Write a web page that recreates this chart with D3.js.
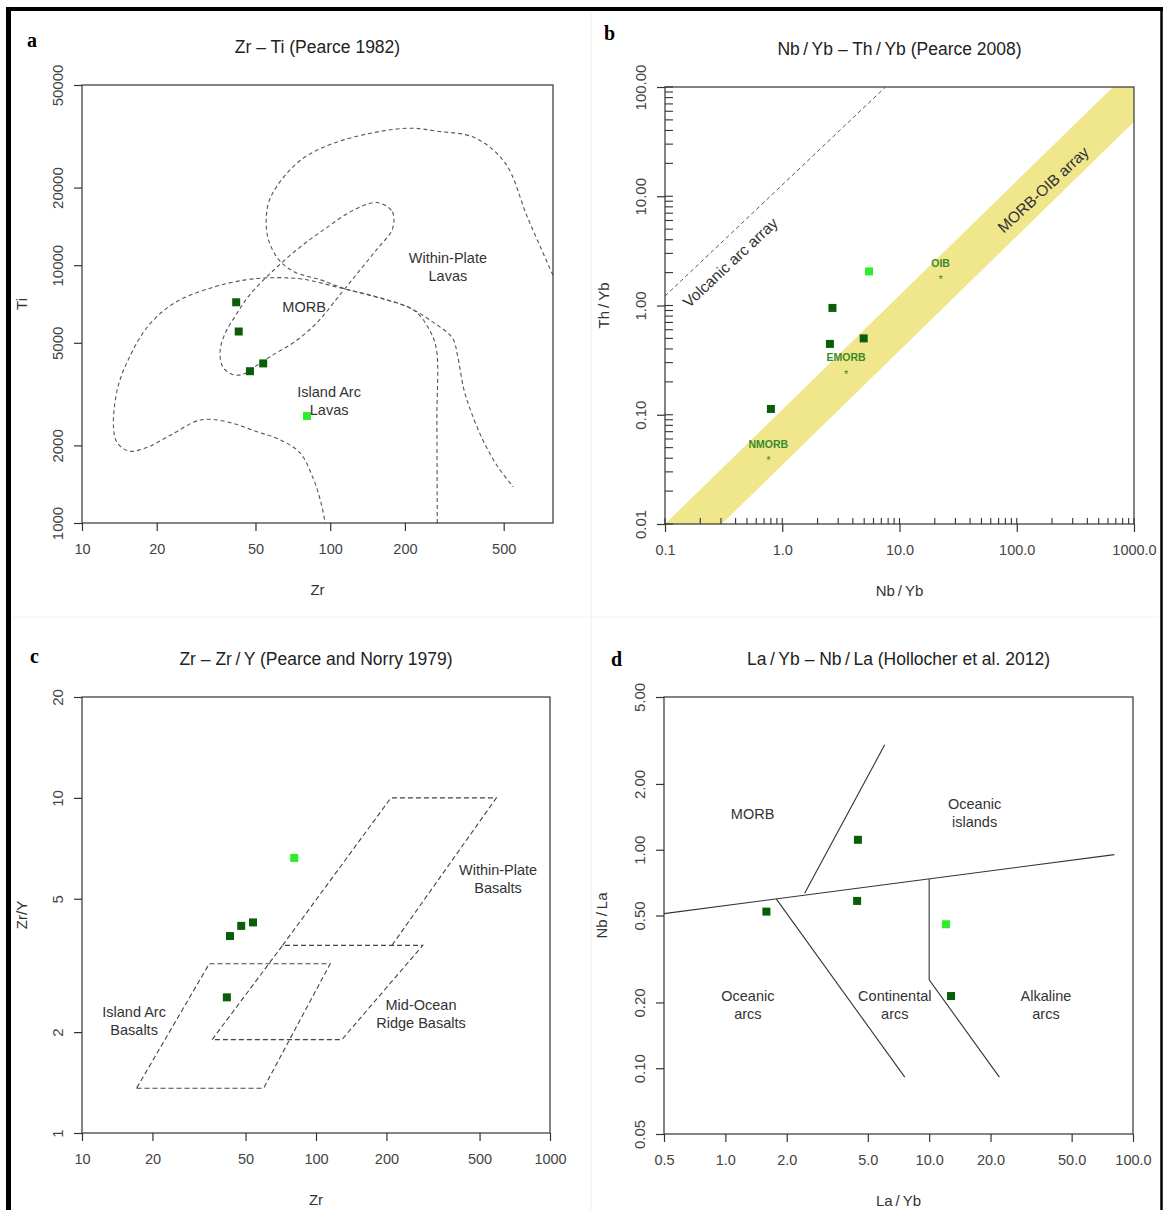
<!DOCTYPE html>
<html>
<head>
<meta charset="utf-8">
<script src="https://cdn.jsdelivr.net/npm/d3@7"></script>
<style>
  body { margin: 0; background: #fff; }
  #chart text { font-family: "Liberation Sans", Arial, sans-serif; }
</style>
</head>
<body>
<div id="chart"></div>
<script>
// ---------------- Data ----------------
// a: Zr - Ti (Pearce 1982)
var a_dark    = [[41.8, 7180], [42.8, 5530], [47.5, 3880], [53.7, 4160]];
var a_light   = [[80.6, 2600]];
var a_within  = [[789, 9160], [624, 15300], [507, 24900], [383, 31200], [270, 33100], [212, 34000],
                 [155, 32900], [102, 29600], [77, 25800], [62.4, 20900], [56.6, 17600], [55.2, 14800],
                 [56.6, 12400], [62.4, 10440], [71.8, 9420], [91.6, 8770], [117, 8050], [155, 7500],
                 [205, 6890], [261, 5990], [311, 5210], [327, 4380], [345, 3320], [370, 2690],
                 [411, 2110], [472, 1660], [547, 1380]];
var a_morb    = [[155, 17500], [178, 16100], [178, 13800], [155, 11600], [130, 9420], [109, 7640],
                 [88.5, 5990], [71.8, 5040], [58.2, 4460], [50.7, 4090], [45.6, 3810], [41.1, 3750],
                 [37, 4020], [36, 4620], [37.6, 5400], [41.8, 6430], [47.2, 7640], [58.2, 9420],
                 [74.3, 11600], [94.9, 13800], [125, 16400]];
var a_arc     = [[270, 1000], [269, 2500], [268, 4700], [252, 5580], [219, 6650], [166, 7380],
                 [109, 8180], [76.9, 8840], [58.2, 8940], [45.6, 8770], [33.3, 8180], [23.5, 7130],
                 [18.4, 5780], [15.5, 4380], [13.9, 3320], [13.4, 2340], [13.9, 2040], [15.5, 1900],
                 [18.4, 1970], [22.7, 2190], [30, 2510], [38.3, 2470], [50.7, 2260], [62.4, 2110],
                 [75.6, 1870], [85.4, 1490], [91.6, 1210], [95.5, 1000]];
var a_labels  = [
  { text: ["Within-Plate", "Lavas"], x: 298, y: 9840 },
  { text: ["MORB"], x: 78.5, y: 6890 },
  { text: ["Island Arc", "Lavas"], x: 99, y: 2970 }
];
var a_xticks  = [10, 20, 50, 100, 200, 500];
var a_xlabels = ["10", "20", "50", "100", "200", "500"];
var a_yticks  = [1000, 2000, 5000, 10000, 20000, 50000];
var a_ylabels = ["1000", "2000", "5000", "10000", "20000", "50000"];

// b: Nb/Yb - Th/Yb (Pearce 2008)
var b_dark    = [[0.80, 0.113], [2.55, 0.445], [2.68, 0.95], [4.95, 0.50]];
var b_light   = [[5.5, 2.05]];
var b_band    = [[0.1, 0.01], [0.305, 0.01], [1000, 48], [1000, 154]];
var b_arcLine = [[0.1, 1.22], [7.6, 100]];
var b_refs    = [{ name: "NMORB", x: 0.76, y: 0.04 }, { name: "EMORB", x: 3.5, y: 0.25 },
                 { name: "OIB", x: 22.4, y: 1.82 }];
var b_labels  = [{ text: "Volcanic arc array", x: 0.36, y: 2.48 },
                 { text: "MORB-OIB array", x: 168, y: 11.5 }];
var b_xticks  = [0.1, 1, 10, 100, 1000];
var b_xlabels = ["0.1", "1.0", "10.0", "100.0", "1000.0"];
var b_yticks  = [0.01, 0.1, 1, 10, 100];
var b_ylabels = ["0.01", "0.10", "1.00", "10.00", "100.00"];

// c: Zr - Zr/Y (Pearce and Norry 1979)
var c_dark    = [[42.9, 3.87], [47.9, 4.15], [53.8, 4.25], [41.6, 2.54]];
var c_light   = [[80.7, 6.62]];
var c_wpb     = [[72, 3.63], [209, 10], [590, 10], [211, 3.63]];
var c_morb    = [[36, 1.9], [72, 3.63], [286, 3.63], [129, 1.9]];
var c_iab     = [[17.1, 1.36], [59.7, 1.36], [115, 3.2], [35, 3.2]];
var c_labels  = [
  { text: ["Within-Plate", "Basalts"], x: 600, y: 5.73 },
  { text: ["Island Arc", "Basalts"], x: 16.7, y: 2.16 },
  { text: ["Mid-Ocean", "Ridge Basalts"], x: 281, y: 2.27 }
];
var c_xticks  = [10, 20, 50, 100, 200, 500, 1000];
var c_xlabels = ["10", "20", "50", "100", "200", "500", "1000"];
var c_yticks  = [1, 2, 5, 10, 20];
var c_ylabels = ["1", "2", "5", "10", "20"];

// d: La/Yb - Nb/La (Hollocher et al. 2012)
var d_dark    = [[4.47, 1.11], [1.59, 0.521], [4.43, 0.583], [12.8, 0.214]];
var d_light   = [[12.1, 0.456]];
var d_lines   = [
  [[0.5, 0.51], [81, 0.95]],
  [[2.45, 0.632], [6.05, 3.02]],
  [[1.78, 0.594], [7.59, 0.091]],
  [[10, 0.735], [10, 0.254], [22.1, 0.091]]
];
var d_labels  = [
  { text: ["MORB"], x: 1.36, y: 1.46 },
  { text: ["Oceanic", "islands"], x: 16.7, y: 1.47 },
  { text: ["Oceanic", "arcs"], x: 1.29, y: 0.195 },
  { text: ["Continental", "arcs"], x: 6.78, y: 0.195 },
  { text: ["Alkaline", "arcs"], x: 37.4, y: 0.195 }
];
var d_xticks  = [0.5, 1, 2, 5, 10, 20, 50, 100];
var d_xlabels = ["0.5", "1.0", "2.0", "5.0", "10.0", "20.0", "50.0", "100.0"];
var d_yticks  = [0.05, 0.1, 0.2, 0.5, 1, 2, 5];
var d_ylabels = ["0.05", "0.10", "0.20", "0.50", "1.00", "2.00", "5.00"];

// ---------------- Drawing ----------------
var width = 1164, height = 1210;
var darkGreen = "#0a5e0a", lightGreen = "#2cee2c";

var svg = d3.select("#chart").append("svg")
    .attr("width", width)
    .attr("height", height);

svg.append("rect").attr("width", width).attr("height", height).attr("fill", "#fff");

// faint separators of the original figure
svg.append("line").attr("x1", 591).attr("x2", 591).attr("y1", 12).attr("y2", height)
    .attr("stroke", "#eeeeee").attr("stroke-width", 1);
svg.append("line").attr("x1", 12).attr("x2", 1159).attr("y1", 617).attr("y2", 617)
    .attr("stroke", "#f2f2f2").attr("stroke-width", 1);

// outer black frame
svg.append("line").attr("x1", 6).attr("x2", 1163).attr("y1", 9).attr("y2", 9)
    .attr("stroke", "#000").attr("stroke-width", 4);
svg.append("line").attr("x1", 8.5).attr("x2", 8.5).attr("y1", 7).attr("y2", height)
    .attr("stroke", "#000").attr("stroke-width", 5);
svg.append("line").attr("x1", 1161.5).attr("x2", 1161.5).attr("y1", 7).attr("y2", height)
    .attr("stroke", "#000").attr("stroke-width", 2.5);

function makePanel(p) {
    var x = d3.scaleLog().domain(p.xdom).range([p.left, p.right]);
    var y = d3.scaleLog().domain(p.ydom).range([p.bottom, p.top]);
    var g = svg.append("g");
    g.append("clipPath").attr("id", "clip-" + p.id).append("rect")
        .attr("x", p.left).attr("y", p.top)
        .attr("width", p.right - p.left).attr("height", p.bottom - p.top);
    var inner = g.append("g").attr("clip-path", "url(#clip-" + p.id + ")");
    return { x: x, y: y, g: g, inner: inner, p: p };
}

function finishPanel(P) {
    var p = P.p, g = P.g, x = P.x, y = P.y;
    var cx = (p.left + p.right) / 2, cy = (p.top + p.bottom) / 2;

    g.append("rect")
        .attr("x", p.left).attr("y", p.top)
        .attr("width", p.right - p.left).attr("height", p.bottom - p.top)
        .attr("fill", "none").attr("stroke", "#333").attr("stroke-width", 1.2);

    // x axis
    var xa = d3.axisBottom(x).tickValues(p.xticks)
        .tickFormat(function(d, i) { return p.xlabels[i]; })
        .tickSizeInner(8).tickSizeOuter(0);
    var gx = g.append("g").attr("transform", "translate(0," + p.bottom + ")").call(xa);
    gx.select(".domain").remove();
    gx.attr("font-size", 14.5);
    gx.selectAll("line").attr("stroke", "#333").attr("stroke-width", 1.2);
    gx.selectAll("text").attr("y", 21).attr("dy", "0.71em").attr("fill", "#444");

    // y axis (labels rotated, as in R)
    var ya = d3.axisLeft(y).tickValues(p.yticks)
        .tickFormat(function(d, i) { return p.ylabels[i]; })
        .tickSizeInner(8).tickSizeOuter(0);
    var gy = g.append("g").attr("transform", "translate(" + p.left + ",0)").call(ya);
    gy.select(".domain").remove();
    gy.attr("font-size", 15);
    gy.selectAll("line").attr("stroke", "#333").attr("stroke-width", 1.2);
    gy.selectAll("text")
        .attr("transform", "rotate(-90)")
        .attr("x", 0).attr("y", -19).attr("dy", 0)
        .attr("text-anchor", "middle").attr("fill", "#444");

    // minor ticks inside
    if (p.minor) {
        g.append("g").selectAll("line").data(x.ticks()).enter().append("line")
            .attr("x1", function(d) { return x(d); }).attr("x2", function(d) { return x(d); })
            .attr("y1", p.bottom).attr("y2", p.bottom - 6)
            .attr("stroke", "#333").attr("stroke-width", 1.1);
        g.append("g").selectAll("line").data(y.ticks()).enter().append("line")
            .attr("y1", function(d) { return y(d); }).attr("y2", function(d) { return y(d); })
            .attr("x1", p.left).attr("x2", p.left + 8)
            .attr("stroke", "#333").attr("stroke-width", 1.1);
    }

    // titles
    g.append("text").attr("x", cx).attr("y", p.top - 32)
        .attr("text-anchor", "middle").attr("font-size", 17.5).attr("fill", "#222")
        .text(p.title);
    g.append("text").attr("x", cx).attr("y", p.bottom + 72)
        .attr("text-anchor", "middle").attr("font-size", 15).attr("fill", "#333")
        .text(p.xtitle);
    g.append("text")
        .attr("transform", "translate(" + (p.left - p.ytitleGap) + "," + cy + ") rotate(-90)")
        .attr("text-anchor", "middle").attr("font-size", 15).attr("fill", "#333")
        .text(p.ytitle);
    g.append("text").attr("x", p.letterX).attr("y", p.letterY)
        .style("font-family", "'Liberation Serif', 'Times New Roman', serif")
        .attr("font-weight", "bold").attr("font-size", 20).attr("fill", "#000")
        .text(p.letter);
}

function drawPoints(P, data, color) {
    P.g.append("g").selectAll("rect").data(data).enter().append("rect")
        .attr("x", function(d) { return P.x(d[0]) - 4; })
        .attr("y", function(d) { return P.y(d[1]) - 4; })
        .attr("width", 8).attr("height", 8)
        .attr("fill", color);
}

function drawLabels(P, labels, size) {
    var lh = 18.5;
    labels.forEach(function(l) {
        var n = l.text.length;
        var t = P.g.append("text")
            .attr("text-anchor", "middle").attr("font-size", size).attr("fill", "#333");
        l.text.forEach(function(s, i) {
            t.append("tspan")
                .attr("x", P.x(l.x))
                .attr("y", P.y(l.y) + (i - (n - 1) / 2) * lh)
                .attr("dy", "0.35em")
                .text(s);
        });
    });
}

function lineGen(P, curve) {
    return d3.line()
        .x(function(d) { return P.x(d[0]); })
        .y(function(d) { return P.y(d[1]); })
        .curve(curve || d3.curveLinear);
}

// ---- panel a ----
var A = makePanel({
    id: "a", left: 82, right: 553, top: 85, bottom: 523,
    xdom: [10, 790], ydom: [1000, 50000],
    xticks: a_xticks, xlabels: a_xlabels, yticks: a_yticks, ylabels: a_ylabels,
    title: "Zr \u2013 Ti (Pearce 1982)", xtitle: "Zr", ytitle: "Ti", ytitleGap: 55,
    letter: "a", letterX: 27, letterY: 47
});
var openCurve = lineGen(A, d3.curveCatmullRom.alpha(0.5));
[a_within, a_arc].forEach(function(c) {
    A.inner.append("path").attr("d", openCurve(c))
        .attr("fill", "none").attr("stroke", "#555").attr("stroke-width", 1.1)
        .attr("stroke-dasharray", "4,3");
});
A.inner.append("path").attr("d", lineGen(A, d3.curveCatmullRomClosed.alpha(0.5))(a_morb))
    .attr("fill", "none").attr("stroke", "#555").attr("stroke-width", 1.1)
    .attr("stroke-dasharray", "4,3");
drawLabels(A, a_labels, 14.5);
drawPoints(A, a_dark, darkGreen);
drawPoints(A, a_light, lightGreen);
finishPanel(A);

// ---- panel b ----
var B = makePanel({
    id: "b", left: 665, right: 1134, top: 87, bottom: 524,
    xdom: [0.1, 1000], ydom: [0.01, 100],
    xticks: b_xticks, xlabels: b_xlabels, yticks: b_yticks, ylabels: b_ylabels,
    title: "Nb\u2009/\u2009Yb \u2013 Th\u2009/\u2009Yb (Pearce 2008)",
    xtitle: "Nb\u2009/\u2009Yb", ytitle: "Th\u2009/\u2009Yb", ytitleGap: 56,
    letter: "b", letterX: 604, letterY: 40, minor: true
});
B.inner.append("path").attr("d", lineGen(B)(b_band) + "Z")
    .attr("fill", "#f0e68c").attr("stroke", "none");
B.inner.append("path").attr("d", lineGen(B)(b_arcLine))
    .attr("fill", "none").attr("stroke", "#555").attr("stroke-width", 1)
    .attr("stroke-dasharray", "4,3");
b_labels.forEach(function(l) {
    B.g.append("text")
        .attr("transform", "translate(" + B.x(l.x) + "," + B.y(l.y) + ") rotate(-43)")
        .attr("text-anchor", "middle").attr("dy", "0.35em")
        .attr("font-size", 15.5).attr("fill", "#333")
        .text(l.text);
});
var refs = B.g.append("g").selectAll("g").data(b_refs).enter().append("g");
refs.append("text")
    .attr("x", function(d) { return B.x(d.x); }).attr("y", function(d) { return B.y(d.y); })
    .attr("dy", "0.57em").attr("text-anchor", "middle")
    .attr("font-size", 11).attr("fill", "#3b8a2b").text("*");
refs.append("text")
    .attr("x", function(d) { return B.x(d.x); }).attr("y", function(d) { return B.y(d.y) - 14; })
    .attr("dy", "0.35em").attr("text-anchor", "middle")
    .attr("font-size", 10.5).attr("font-weight", "bold").attr("fill", "#3b8a2b")
    .text(function(d) { return d.name; });
drawPoints(B, b_dark, darkGreen);
drawPoints(B, b_light, lightGreen);
finishPanel(B);

// ---- panel c ----
var C = makePanel({
    id: "c", left: 82, right: 550, top: 697, bottom: 1133,
    xdom: [10, 1000], ydom: [1, 20],
    xticks: c_xticks, xlabels: c_xlabels, yticks: c_yticks, ylabels: c_ylabels,
    title: "Zr \u2013 Zr\u2009/\u2009Y (Pearce and Norry 1979)", xtitle: "Zr", ytitle: "Zr/Y",
    ytitleGap: 55, letter: "c", letterX: 30, letterY: 663
});
C.inner.append("path").attr("d", lineGen(C)(c_wpb))
    .attr("fill", "none").attr("stroke", "#444").attr("stroke-width", 1.1)
    .attr("stroke-dasharray", "5,3");
[c_morb, c_iab].forEach(function(poly) {
    C.inner.append("path").attr("d", lineGen(C)(poly) + "Z")
        .attr("fill", "none").attr("stroke", "#444").attr("stroke-width", 1.1)
        .attr("stroke-dasharray", "5,3");
});
drawLabels(C, c_labels, 14.5);
drawPoints(C, c_dark, darkGreen);
drawPoints(C, c_light, lightGreen);
finishPanel(C);

// ---- panel d ----
var D = makePanel({
    id: "d", left: 664, right: 1133, top: 697, bottom: 1134,
    xdom: [0.5, 100], ydom: [0.05, 5],
    xticks: d_xticks, xlabels: d_xlabels, yticks: d_yticks, ylabels: d_ylabels,
    title: "La\u2009/\u2009Yb \u2013 Nb\u2009/\u2009La (Hollocher et al. 2012)",
    xtitle: "La\u2009/\u2009Yb", ytitle: "Nb\u2009/\u2009La", ytitleGap: 57,
    letter: "d", letterX: 611, letterY: 666
});
d_lines.forEach(function(l) {
    D.inner.append("path").attr("d", lineGen(D)(l))
        .attr("fill", "none").attr("stroke", "#333").attr("stroke-width", 1.1);
});
drawLabels(D, d_labels, 14.5);
drawPoints(D, d_dark, darkGreen);
drawPoints(D, d_light, lightGreen);
finishPanel(D);
</script>
</body>
</html>
